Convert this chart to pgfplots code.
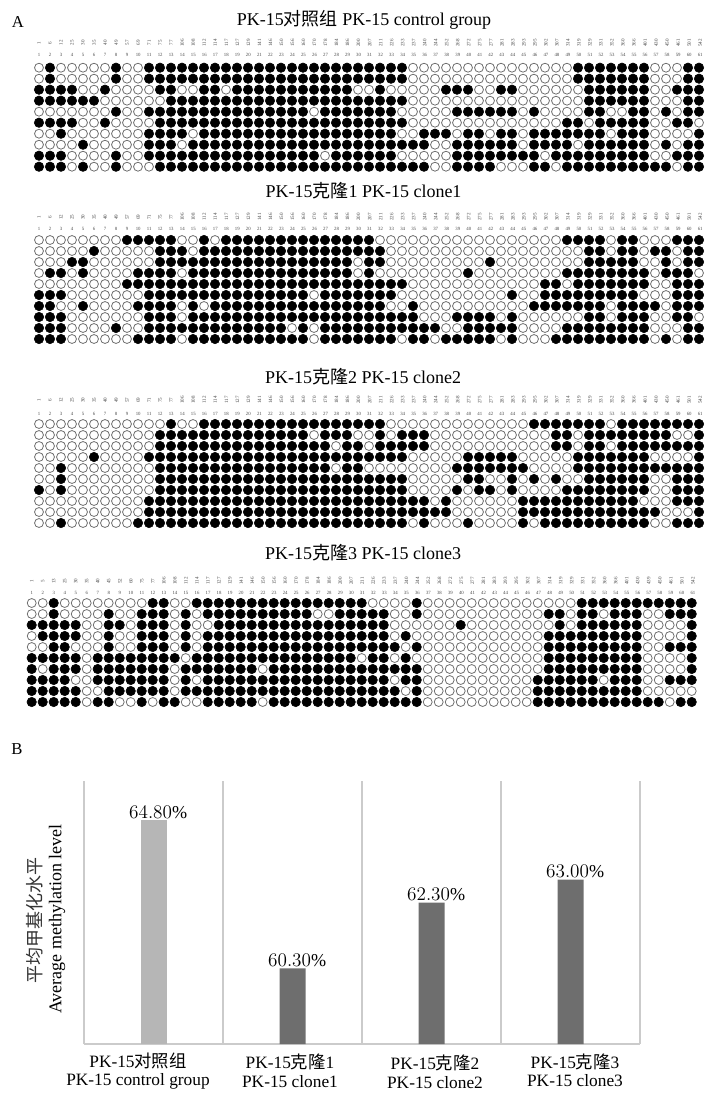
\documentclass[border=0pt]{standalone}
\usepackage{fontspec}
\usepackage{pgfplots}
\usepackage{pgfplotstable}
\pgfplotsset{compat=1.18}
\setmainfont{Liberation Serif}
\newfontfamily\cjk{Noto Sans CJK SC}
\def\px{0.75pt}
\definecolor{ringgray}{HTML}{707070}
\definecolor{gridgray}{HTML}{CBCBCB}
\definecolor{barlight}{HTML}{B6B6B6}
\definecolor{bardark}{HTML}{6E6E6E}
\definecolor{labelgray}{HTML}{484848}

% methylation state: one line per clone, one number per CpG site (1 = methylated)
\pgfplotstableread[header=false]{
0 1 0 0 0 0 0 1 0 0  1 1 1 1 1 1 1 1 1 1  1 1 1 1 1 1 1 1 1 1  1 1 1 1 0 0 0 0 0 0  0 0 0 0 0 0 0 0 0 1  1 1 1 1 1 1 0 0 0 1  1
0 1 0 0 0 0 0 1 0 0  1 1 1 1 1 1 1 1 1 1  1 1 1 1 1 1 1 1 1 1  1 1 1 1 0 0 0 0 0 0  0 0 0 0 0 0 0 0 0 1  1 1 1 1 1 1 0 0 0 1  1
1 1 1 1 0 0 1 0 0 0  0 1 1 0 0 1 1 0 1 1  1 1 1 1 1 1 1 1 1 0  0 1 0 0 0 0 0 1 1 1  0 0 1 1 0 0 0 0 0 0  1 1 1 1 1 1 0 0 1 1  1
1 1 1 1 1 1 0 0 0 0  0 0 1 1 1 1 1 1 1 1  1 1 1 1 1 1 1 1 1 1  1 1 1 1 0 0 0 0 0 0  0 0 0 0 0 0 0 0 0 0  1 1 1 1 1 1 0 0 0 1  1
0 0 0 0 0 0 0 1 0 0  1 1 1 1 1 1 1 1 1 1  1 1 1 1 1 0 1 1 1 1  1 1 1 0 0 0 0 0 1 1  1 1 1 1 0 1 0 0 0 0  1 1 0 0 1 1 0 1 0 1  1
1 1 1 1 0 0 1 0 0 0  0 1 1 1 1 1 1 1 1 1  1 1 1 1 1 1 1 1 1 1  1 1 1 1 0 0 0 0 0 0  0 0 0 0 0 0 0 0 1 1  0 1 1 1 1 1 0 0 1 1  0
0 0 1 0 0 0 0 0 0 0  1 1 1 1 0 1 1 1 1 1  1 1 1 1 1 1 1 1 1 1  1 1 1 0 0 1 1 1 0 1  1 0 1 1 0 1 1 1 1 1  1 1 0 1 1 1 0 0 0 0  1
0 0 0 0 1 0 0 0 0 0  1 1 1 0 1 1 1 1 1 1  1 1 1 1 1 1 1 1 1 1  1 1 1 1 1 1 0 0 1 1  1 1 1 1 0 1 1 1 1 0  1 1 1 1 1 1 0 1 0 1  1
1 1 1 0 0 0 0 1 0 0  1 1 1 1 1 1 1 1 1 1  1 1 1 1 1 1 0 1 1 1  1 1 1 0 0 0 0 0 1 1  1 1 1 1 1 1 0 1 1 1  1 1 1 1 1 1 0 0 1 1  1
1 1 1 0 1 0 0 1 0 0  0 1 1 1 1 1 1 1 1 1  1 1 1 1 1 1 1 1 1 1  1 1 1 1 1 1 0 0 1 1  1 1 0 0 0 1 1 0 1 1  1 1 1 1 1 1 1 1 0 1  1
}\rawA
\pgfplotstableread[header=false]{
0 0 0 0 0 0 0 0 1 1  1 1 1 0 0 1 0 1 1 1  1 1 1 1 1 1 1 1 1 1  1 0 0 0 0 0 0 0 0 0  0 0 0 0 0 0 0 0 1 1  1 1 0 1 1 0 0 0 1 1  1
0 0 0 0 0 1 0 0 0 0  0 1 1 1 0 1 1 1 1 1  1 1 1 1 1 1 1 1 1 1  1 1 0 0 0 0 0 0 0 0  0 0 0 0 0 0 0 0 0 0  1 1 0 1 1 0 1 1 0 1  1
0 0 0 1 1 0 0 0 0 0  0 1 1 1 1 1 1 1 1 1  1 1 1 1 1 1 1 1 1 0  1 1 0 0 0 0 0 0 0 0  0 1 0 0 0 0 0 0 0 0  1 1 1 1 1 0 0 1 0 1  1
0 1 1 0 1 0 0 0 0 1  1 1 1 0 1 1 1 1 1 1  1 1 1 1 1 1 1 1 1 0  1 0 0 0 0 0 0 0 0 1  0 0 0 0 0 0 0 0 1 1  1 1 1 1 1 1 0 1 1 1  0
0 0 0 0 0 0 0 0 1 1  1 1 1 1 1 1 1 1 1 1  1 1 1 1 1 1 1 1 1 1  1 1 1 1 0 0 0 0 0 0  0 0 0 0 0 0 1 1 0 1  1 1 1 1 1 1 0 0 1 1  1
1 1 1 0 0 0 0 0 0 0  1 1 1 1 1 1 1 1 1 1  1 1 1 1 1 0 1 1 1 1  1 1 1 0 0 0 0 0 0 0  0 0 0 1 0 0 1 1 1 1  1 1 1 1 1 0 0 0 1 1  1
1 1 0 0 1 0 0 0 0 1  1 1 1 0 1 0 1 1 1 1  1 1 1 1 1 1 1 1 1 1  1 1 0 0 1 0 0 0 0 0  0 0 0 0 0 1 1 1 1 1  1 1 0 1 1 1 1 0 1 1  1
1 1 1 0 0 0 0 0 0 0  1 1 1 0 1 1 1 1 1 1  1 1 1 1 1 1 1 1 1 1  1 1 1 1 1 0 0 0 1 1  1 1 0 1 0 0 0 0 0 0  1 1 0 1 1 1 0 0 1 1  0
1 1 1 0 0 0 0 1 0 0  1 1 1 1 1 1 1 1 1 1  1 1 1 0 1 0 1 1 1 1  1 1 1 1 1 1 1 0 0 1  1 1 1 1 0 0 0 0 1 1  1 1 1 1 1 1 0 0 0 1  1
1 1 1 0 0 0 0 0 0 1  1 1 1 0 1 1 1 1 1 1  1 1 1 1 1 0 1 1 1 1  1 1 1 0 1 1 0 1 1 1  1 1 0 1 0 0 0 1 1 1  1 1 1 1 1 1 0 1 0 1  1
}\rawB
\pgfplotstableread[header=false]{
0 0 0 0 0 0 0 0 0 0  0 0 1 0 0 1 1 1 1 1  1 1 1 1 1 1 1 1 1 1  1 1 0 0 0 0 0 0 0 0  0 0 0 0 0 1 1 1 1 1  1 1 0 1 1 1 1 1 1 1  1
0 0 0 0 0 0 0 0 0 0  0 1 1 1 1 1 1 1 1 1  1 1 1 1 1 0 1 1 1 0  0 1 0 1 1 1 0 0 0 0  0 0 0 0 0 0 0 1 1 0  1 1 1 1 1 1 1 1 0 0  1
0 0 0 0 0 0 0 0 0 0  0 1 1 1 1 1 1 1 1 1  1 1 1 1 1 1 1 0 1 1  0 1 1 1 1 1 0 0 0 0  0 0 0 0 0 0 0 1 1 0  1 1 0 1 1 1 1 1 1 1  1
0 0 0 0 0 1 0 0 0 0  1 1 1 1 1 1 1 1 1 1  1 1 1 1 1 1 1 1 1 1  1 1 1 1 0 0 0 0 0 1  1 1 1 1 0 0 0 0 0 1  1 1 1 1 1 1 0 0 0 0  1
0 0 1 0 0 0 0 0 0 0  0 1 1 1 1 1 1 1 1 1  1 1 1 1 1 1 1 0 1 1  0 0 0 0 0 0 0 0 1 1  1 1 1 1 1 0 0 0 0 1  1 1 1 1 1 1 1 1 1 1  1
0 0 1 0 0 0 0 0 0 0  0 1 1 1 1 1 1 1 1 1  1 1 1 1 1 1 1 1 1 1  1 1 1 1 0 0 0 0 0 1  1 0 0 1 0 1 0 1 0 0  1 1 1 1 1 1 0 0 1 1  1
1 0 1 0 0 0 0 0 0 0  0 1 1 1 1 1 1 1 1 1  1 1 1 1 1 1 1 1 1 1  1 1 1 1 0 0 0 0 1 0  1 1 0 1 0 0 0 0 1 1  1 1 1 1 1 1 0 0 1 1  1
0 0 0 0 0 0 0 0 0 0  1 1 1 1 1 1 1 1 1 1  1 1 1 1 1 1 1 1 1 1  1 1 1 1 1 1 0 1 0 0  0 0 0 0 1 1 1 1 1 1  1 1 1 1 1 0 0 0 1 1  1
0 0 0 0 0 0 0 0 0 0  1 1 1 1 1 1 1 1 1 1  1 1 1 1 1 1 1 1 1 1  1 1 1 1 1 1 1 1 0 0  0 0 0 0 1 1 1 1 1 1  1 1 1 1 1 1 1 0 0 0  1
0 0 1 0 0 0 0 0 0 1  1 1 1 1 1 1 1 1 1 1  1 1 1 1 1 1 1 1 1 1  1 1 1 1 0 1 0 0 0 1  0 0 0 0 1 0 1 1 1 1  1 1 1 1 1 1 0 0 1 1  1
}\rawC
\pgfplotstableread[header=false]{
0 0 1 0 0 0 0 0 0 0  0 1 1 0 0 1 1 1 1 1  1 1 1 1 1 1 1 1 1 1  1 0 0 0 0 1 0 0 0 0  0 0 0 0 0 0 0 0 0 0  1 1 1 1 1 1 1 1 1 1  1
0 0 1 0 0 0 0 1 0 0  1 1 1 0 1 0 1 1 1 1  1 1 1 1 1 1 0 0 1 1  1 1 1 0 0 1 0 0 0 0  0 0 0 0 0 0 0 1 1 0  1 1 0 1 1 1 0 0 1 1  1
1 1 1 1 1 0 0 1 1 0  1 1 1 0 1 0 0 1 1 1  1 1 1 1 1 1 1 1 1 1  1 1 1 0 0 0 0 0 0 1  0 0 0 0 0 0 0 0 1 0  1 1 1 1 1 1 0 0 0 0  1
0 1 1 1 1 0 0 1 0 0  1 1 1 0 1 0 1 1 1 1  1 1 1 1 1 1 1 1 1 1  1 1 1 0 1 0 0 0 0 0  0 0 0 0 0 0 0 1 1 1  1 1 1 1 1 1 0 0 0 0  1
0 0 1 1 0 0 0 1 0 0  1 1 1 0 1 0 1 1 1 1  1 1 1 1 1 1 1 1 1 1  1 1 1 1 0 1 0 0 0 0  0 0 0 0 0 0 0 1 1 1  1 1 1 1 1 1 0 0 1 1  1
1 1 1 1 1 0 1 1 1 1  1 1 1 1 0 1 1 1 1 1  1 1 1 1 1 1 1 1 1 1  0 1 1 0 1 0 0 0 0 0  0 0 0 0 0 0 0 1 1 1  1 1 1 1 1 1 0 0 0 0  1
1 0 1 1 1 0 1 1 1 1  1 1 1 0 1 1 1 1 1 1  1 0 1 1 1 1 1 1 1 1  1 1 1 1 1 1 0 0 0 0  0 0 0 0 0 0 0 1 1 1  1 1 1 1 1 1 0 0 0 0  1
1 1 1 1 0 0 1 1 1 1  1 1 1 0 1 0 1 1 1 1  1 1 1 1 1 1 1 1 1 1  1 1 1 0 1 1 0 0 0 0  0 0 0 0 0 0 1 1 1 1  1 1 0 1 1 1 0 0 1 1  1
1 1 1 1 1 0 0 1 1 1  1 1 1 0 1 1 1 1 1 1  1 1 1 1 1 1 1 1 1 1  1 1 1 1 0 1 0 0 0 0  0 0 0 0 0 0 1 1 1 1  1 1 1 1 1 1 0 0 0 0  0
1 1 1 1 1 0 1 1 0 0  1 0 1 1 0 0 1 1 1 1  1 0 1 1 1 1 1 1 1 1  1 1 1 1 1 1 0 0 0 0  0 0 0 0 0 0 1 1 1 1  1 1 1 1 1 1 1 1 0 1  1
}\rawD
\pgfplotstabletranspose\tabA{\rawA}
\pgfplotstabletranspose\tabB{\rawB}
\pgfplotstabletranspose\tabC{\rawC}
\pgfplotstabletranspose\tabD{\rawD}

\newcommand{\sitesA}{1,6,12,25,30,35,40,49,57,69,71,75,77,106,108,112,114,117,127,129,141,146,150,156,160,170,178,184,186,200,207,211,226,233,237,240,244,252,268,272,275,277,281,283,293,295,302,307,314,319,329,331,352,360,366,401,430,450,461,501,542}
\newcommand{\sitesD}{1,5,13,25,30,35,40,45,52,60,75,77,106,108,112,114,117,127,129,141,146,150,156,160,170,178,184,186,200,207,211,226,233,237,240,244,252,268,272,275,277,281,283,293,295,302,307,314,319,329,331,352,360,366,401,430,439,450,461,501,542}

\pgfplotsset{
  clonegrid/.style={
    scale only axis, clip=false, axis lines=none,
    width=660*\px, height=99*\px, anchor=north west,
    xmin=1, xmax=61, ymin=1, ymax=10, y dir=reverse,
    scatter/classes={
      0={mark=*, mark size=3.35pt, line width=0.6pt, draw=ringgray, fill=white},
      1={mark=*, mark size=3.55pt, draw=none, fill=black}},
  },
}
% table, x of site 1, y of first clone, y of numbers, y of site positions, positions
\newcommand{\clonepanel}[6]{
  \begin{axis}[clonegrid, at={(#2*\px,-#3*\px)}]
    \pgfplotsinvokeforeach{0,...,9}{
      \addplot[scatter, only marks, scatter src=explicit symbolic]
        table[x expr=\coordindex+1, y expr=##1+1, meta=##1] {#1};
    }
  \end{axis}
  \foreach \i in {1,...,61}
    \node[inner sep=0pt, font=\fontsize{3.6}{4}\selectfont, text=labelgray] at ({(#2+11.02*(\i-1))*\px},{-#4*\px}) {\i};
  \foreach \s [count=\i] in #6
    \node[inner sep=0pt, rotate=90, font=\fontsize{3.8}{4}\selectfont, text=labelgray] at ({(#2+11.02*(\i-1))*\px},{-#5*\px}) {\s};
}
\newcommand{\txt}[3]{\node[inner sep=0pt, align=center, font=\fontsize{13.5}{15}\selectfont] at (#1*\px,-#2*\px) {#3};}
\newcommand{\lab}[3]{\node[inner sep=0pt, align=center, font=\fontsize{13}{15}\selectfont] at (#1*\px,-#2*\px) {#3};}

\begin{document}
\begin{tikzpicture}
\useasboundingbox (0,0) rectangle (540pt,-829.5pt);

\node[inner sep=0pt, font=\fontsize{12.5}{13}\selectfont] at (18*\px,-22*\px) {A};
\node[inner sep=0pt, font=\fontsize{12.5}{13}\selectfont] at (17*\px,-749*\px) {B};
\txt{364}{20}{PK-15{\cjk 对照组} PK-15 control group}
\txt{363.5}{191}{PK-15{\cjk 克隆}1 PK-15 clone1}
\txt{363}{377}{PK-15{\cjk 克隆}2 PK-15 clone2}
\txt{363}{553}{PK-15{\cjk 克隆}3 PK-15 clone3}

\clonepanel{\tabA}{39}{67.7}{55}{43}{\sitesA}
\clonepanel{\tabB}{39}{240}{229}{217}{\sitesA}
\clonepanel{\tabC}{39}{424}{414}{400}{\sitesA}
\clonepanel{\tabD}{31.7}{603}{593}{581}{\sitesD}

% B: average methylation level
\begin{axis}[
  at={(84*\px,-1044*\px)}, anchor=south west,
  scale only axis, width=556*\px, height=263*\px,
  ybar, bar width=26*\px, bar shift=0pt,
  xmin=-0.5, xmax=3.5, ymin=58, ymax=66,
  axis x line*=bottom, axis y line*=left,
  x axis line style={-, draw=gridgray, line width=1.1pt},
  y axis line style={-, draw=none},
  xtick={-0.5,0.5,1.5,2.5,3.5}, xticklabels={}, ytick=\empty,
  major tick length=0pt, xmajorgrids,
  grid style={draw=gridgray, line width=1.1pt},
  clip=false,
  nodes near coords={\pgfmathprintnumber[fixed,fixed zerofill,precision=2]{\pgfplotspointmeta}\%},
  every node near coord/.append style={font=\fontsize{13.6}{15}\selectfont, black, xshift=3.5pt, yshift=-1pt, inner sep=2pt},
  ]
  \addplot[fill=barlight, draw=none] coordinates {(0,64.8)};
  \addplot[fill=bardark, draw=none] coordinates {(1,60.3) (2,62.3) (3,63.0)};
\end{axis}

\lab{138}{1061}{PK-15{\cjk 对照组}}
\lab{138}{1081}{PK-15 control group}
\lab{290}{1062}{PK-15{\cjk 克隆}1}
\lab{290}{1082}{PK-15 clone1}
\lab{435}{1063}{PK-15{\cjk 克隆}2}
\lab{435}{1083}{PK-15 clone2}
\lab{575}{1062}{PK-15{\cjk 克隆}3}
\lab{575}{1081}{PK-15 clone3}
\node[inner sep=0pt, rotate=90, font=\fontsize{13.5}{15}\selectfont\cjk, text=black!80] at (35*\px,-920*\px) {平均甲基化水平};
\node[inner sep=0pt, rotate=90, font=\fontsize{13.5}{15}\selectfont] at (57*\px,-919*\px) {Average methylation level};
\end{tikzpicture}
\end{document}
